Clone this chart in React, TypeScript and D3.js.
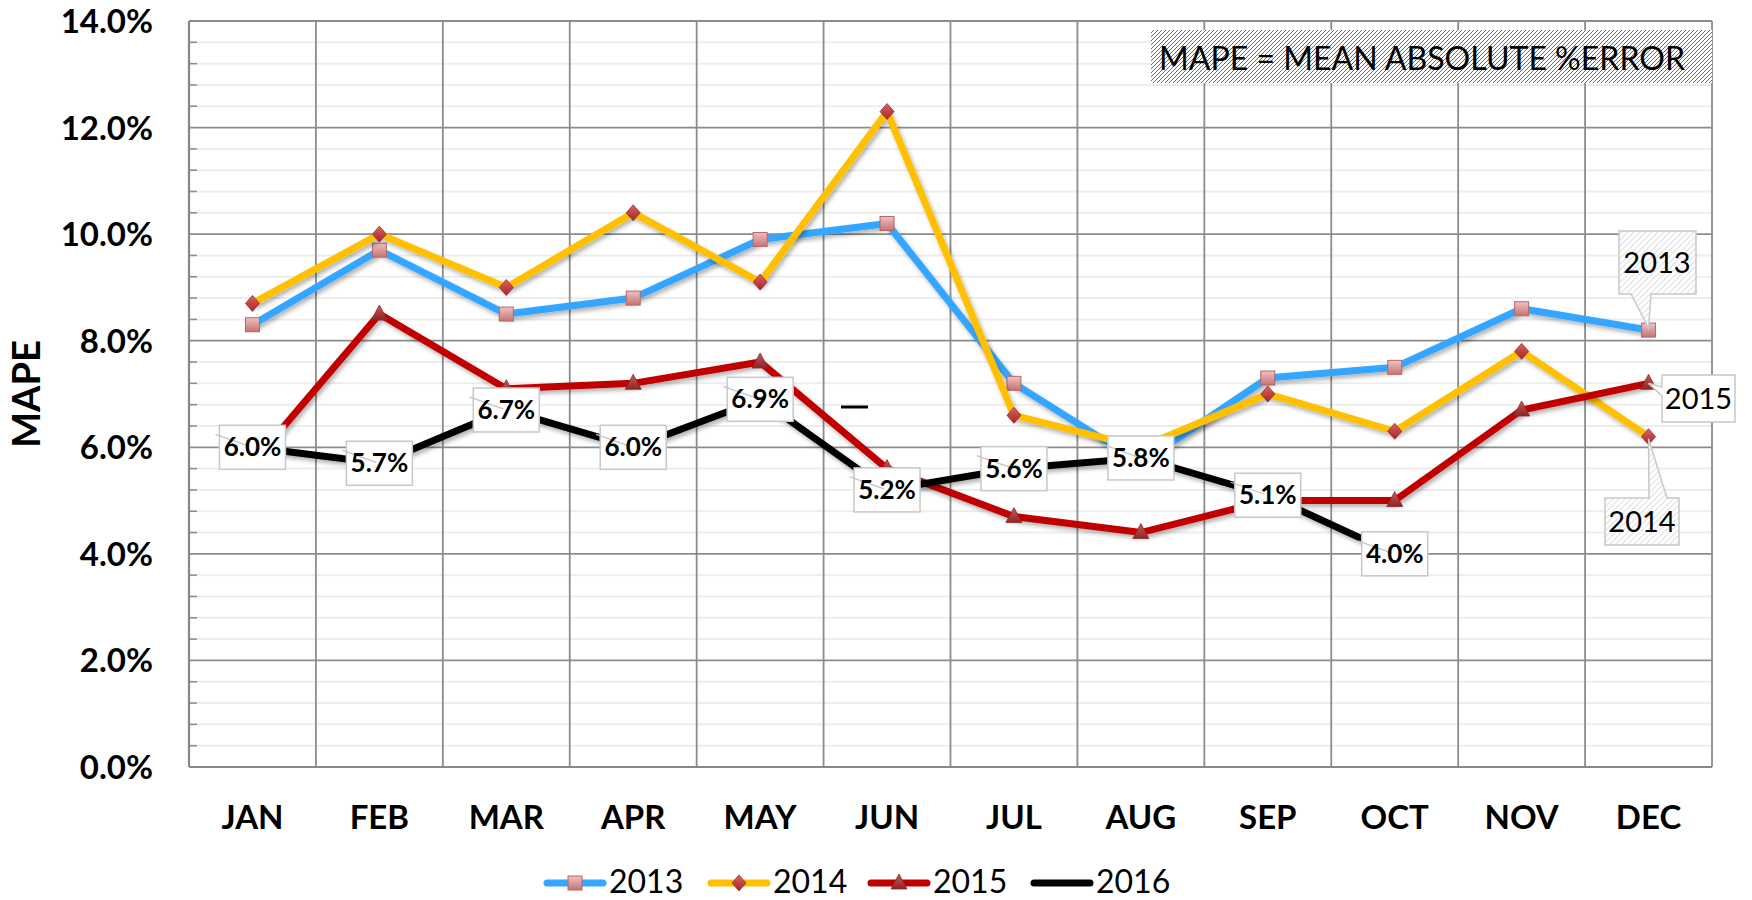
import React from 'react';
import * as d3 from 'd3';

const months = ['JAN', 'FEB', 'MAR', 'APR', 'MAY', 'JUN', 'JUL', 'AUG', 'SEP', 'OCT', 'NOV', 'DEC'];
const s2013 = [8.3, 9.7, 8.5, 8.8, 9.9, 10.2, 7.2, 5.7, 7.3, 7.5, 8.6, 8.2];
const s2014 = [8.7, 10.0, 9.0, 10.4, 9.1, 12.3, 6.6, 6.0, 7.0, 6.3, 7.8, 6.2];
const s2015 = [5.7, 8.5, 7.1, 7.2, 7.6, 5.6, 4.7, 4.4, 5.0, 5.0, 6.7, 7.2];
const s2016 = [6.0, 5.7, 6.7, 6.0, 6.9, 5.2, 5.6, 5.8, 5.1, 4.0];
const yTicks = [0, 2, 4, 6, 8, 10, 12, 14];
const seriesNames = ['2013', '2014', '2015', '2016'];
const seriesColors = ['#36A6FF', '#FFC000', '#C00000', '#000000'];
const markerKinds = ['square', 'diamond', 'triangle', 'none'];

const FONT = 'Lato, "Open Sans", sans-serif';

function Marker({ kind, x, y }: { kind: string; x: number; y: number }) {
  if (kind === 'square') {
    return <rect x={x - 7} y={y - 7} width={14} height={14} fill="url(#gSq)" stroke="#b06a6a" strokeWidth={1} />;
  }
  if (kind === 'diamond') {
    return <path d={`M${x},${y - 8} L${x + 7},${y} L${x},${y + 8} L${x - 7},${y} Z`} fill="url(#gDi)" stroke="#9a2a2a" strokeWidth={0.8} />;
  }
  if (kind === 'triangle') {
    return <path d={`M${x},${y - 9} L${x + 8},${y + 6} L${x - 8},${y + 6} Z`} fill="url(#gTr)" stroke="#8a2a2a" strokeWidth={0.8} />;
  }
  return null;
}

export default function App() {
  const left = 189, right = 1712, top = 21, bottom = 767;
  const x = d3.scaleBand<string>().domain(months).range([left, right]).padding(0);
  const y = d3.scaleLinear().domain([0, 14]).range([bottom, top]);
  const cx = (i: number) => (x(months[i]) as number) + x.bandwidth() / 2;

  const minor: number[] = [];
  for (let v = 0.4; v < 14; v += 0.4) {
    const r = Math.round(v * 10) / 10;
    if (Math.abs(r / 2 - Math.round(r / 2)) > 0.01) minor.push(r);
  }

  const line = d3.line<number>().x((_, i) => cx(i)).y((d) => y(d));
  const all = [s2013, s2014, s2015, s2016];

  const legendX = [547, 711, 871, 1034];

  const dec = 11;
  const p13 = { x: cx(dec), y: y(s2013[dec]) };
  const p14 = { x: cx(dec), y: y(s2014[dec]) };
  const p15 = { x: cx(dec), y: y(s2015[dec]) };

  return (
    <svg width={1752} height={900} style={{ position: 'absolute', left: 0, top: 0, background: '#fff' }} fontFamily={FONT}>
      <defs>
        <pattern id="hatchDark" width={4} height={4} patternUnits="userSpaceOnUse">
          <rect width={4} height={4} fill="#fff" />
          <path d="M-1,1 l2,-2 M0,4 l4,-4 M3,5 l2,-2" stroke="#6a6a6a" strokeWidth={1} />
        </pattern>
        <pattern id="hatchLight" width={6} height={6} patternUnits="userSpaceOnUse">
          <rect width={6} height={6} fill="#fff" />
          <path d="M-1,1 l2,-2 M0,6 l6,-6 M5,7 l2,-2" stroke="#e2e2e2" strokeWidth={1.2} />
        </pattern>
        <linearGradient id="gSq" x1="0" y1="0" x2="0" y2="1">
          <stop offset="0" stopColor="#f2c0c0" />
          <stop offset="1" stopColor="#c47474" />
        </linearGradient>
        <linearGradient id="gDi" x1="0" y1="0" x2="0" y2="1">
          <stop offset="0" stopColor="#e06060" />
          <stop offset="1" stopColor="#a02828" />
        </linearGradient>
        <linearGradient id="gTr" x1="0" y1="0" x2="0" y2="1">
          <stop offset="0" stopColor="#c85858" />
          <stop offset="1" stopColor="#8c2626" />
        </linearGradient>
        <filter id="sh" x="-5%" y="-10%" width="110%" height="130%">
          <feDropShadow dx="2" dy="3" stdDeviation="2" floodColor="#000" floodOpacity="0.3" />
        </filter>
      </defs>

      {/* minor gridlines */}
      {minor.map((v) => (
        <g key={'m' + v}>
          <line x1={left} x2={right} y1={y(v)} y2={y(v)} stroke="#ededed" strokeWidth={2} />
          <line x1={left} x2={left + 8} y1={y(v)} y2={y(v)} stroke="#8c8c8c" strokeWidth={1.5} />
        </g>
      ))}
      {/* major gridlines */}
      {yTicks.map((v) => (
        <line key={'M' + v} x1={left} x2={right} y1={y(v)} y2={y(v)} stroke="#8c8c8c" strokeWidth={1.8} />
      ))}
      {months.map((m) => (
        <line key={'v' + m} x1={x(m) as number} x2={x(m) as number} y1={top} y2={bottom} stroke="#8c8c8c" strokeWidth={1.8} />
      ))}
      <line x1={right} x2={right} y1={top} y2={bottom} stroke="#8c8c8c" strokeWidth={1.8} />
      <line x1={left} x2={left} y1={top} y2={bottom} stroke="#888" strokeWidth={2.2} />
      <line x1={left} x2={right} y1={bottom} y2={bottom} stroke="#888" strokeWidth={2.2} />

      {/* y tick labels */}
      {yTicks.map((v) => (
        <text key={'t' + v} x={153} y={y(v) + 12} textAnchor="end" fontSize={33} fontWeight="bold" fill="#000">
          {v.toFixed(1) + '%'}
        </text>
      ))}
      {/* x labels */}
      {months.map((m, i) => (
        <text key={'x' + m} x={cx(i)} y={829} textAnchor="middle" fontSize={33} fontWeight="bold" fill="#000">
          {m}
        </text>
      ))}
      <text transform={`translate(40,${(top + bottom) / 2}) rotate(-90)`} textAnchor="middle" fontSize={38} fontWeight="bold" fill="#000">
        MAPE
      </text>

      {/* annotation box */}
      <rect x={1151} y={30} width={right - 1151} height={53} fill="url(#hatchDark)" />
      <text x={1159} y={70} fontSize={32} fill="#000" textLength={526} lengthAdjust="spacingAndGlyphs">
        MAPE = MEAN ABSOLUTE %ERROR
      </text>

      {/* series */}
      {all.map((s, k) => (
        <g key={'s' + k}>
          <path d={line(s) as string} fill="none" stroke={seriesColors[k]} strokeWidth={7} strokeLinejoin="miter" filter="url(#sh)" />
          {s.map((v, i) => (
            <Marker key={i} kind={markerKinds[k]} x={cx(i)} y={y(v)} />
          ))}
        </g>
      ))}

      {/* stray dash */}
      <line x1={841} x2={868} y1={407} y2={407} stroke="#000" strokeWidth={3} />

      {/* 2016 data labels */}
      {s2016.map((v, i) => {
        const px = cx(i), py = y(v);
        return (
          <g key={'l' + i}>
            <rect x={px - 33} y={py - 22} width={66} height={44} fill="#fff" stroke="#c8c8c8" strokeWidth={1.5} />
            <line x1={px - 37} y1={py - 13} x2={px - 3} y2={py - 1} stroke="#c4c4c4" strokeWidth={1.3} />
            <text x={px} y={py + 9} textAnchor="middle" fontSize={26} fontWeight="bold" fill="#000">
              {v.toFixed(1) + '%'}
            </text>
          </g>
        );
      })}

      {/* series callouts */}
      <path d={`M1619,231 H1696 V294 H1651 L${p13.x},${p13.y - 2} L1631,294 H1619 Z`} fill="url(#hatchLight)" stroke="#c8c8c8" strokeWidth={1.5} />
      <text x={1657} y={273} textAnchor="middle" fontSize={29} fill="#000">2013</text>
      <path d={`M1662,375 H1735 V422 H1662 V396 L${p15.x},${p15.y} L1662,387 Z`} fill="#fff" stroke="#c8c8c8" strokeWidth={1.5} />
      <text x={1698.5} y={409} textAnchor="middle" fontSize={29} fill="#000">2015</text>
      <path d={`M1605,498 H1649 L${p14.x},${p14.y + 2} L1667,498 H1679 V545 H1605 Z`} fill="url(#hatchLight)" stroke="#c8c8c8" strokeWidth={1.5} />
      <text x={1642} y={532} textAnchor="middle" fontSize={29} fill="#000">2014</text>

      {/* legend */}
      {seriesNames.map((n, k) => (
        <g key={'lg' + n}>
          <line x1={legendX[k]} x2={legendX[k] + 56} y1={883} y2={883} stroke={seriesColors[k]} strokeWidth={7} strokeLinecap="round" />
          <Marker kind={markerKinds[k]} x={legendX[k] + 28} y={883} />
          <text x={legendX[k] + 62} y={893} fontSize={32} fill="#000">{n}</text>
        </g>
      ))}
    </svg>
  );
}
